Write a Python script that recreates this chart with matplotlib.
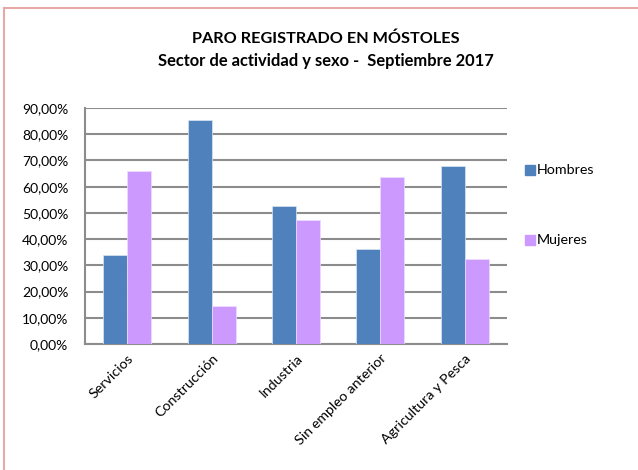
import matplotlib.pyplot as plt
import numpy as np
from matplotlib.lines import Line2D

# --- DATA ---
categorias = ["Servicios", "Construcción", "Industria", "Sin empleo anterior", "Agricultura y Pesca"]
hombres = [34.0, 85.5, 52.8, 36.2, 67.7]
mujeres = [66.0, 14.5, 47.2, 63.8, 32.3]
y_ticks = [0, 10, 20, 30, 40, 50, 60, 70, 80, 90]
y_labels = ["%d,00%%" % v for v in y_ticks]

plt.rcParams['font.family'] = ['Lato', 'DejaVu Sans']

fig = plt.figure(figsize=(6.38, 4.70), dpi=100)
ax = fig.add_axes([0.1332, 0.2681, 0.6615, 0.5021])

x = np.arange(len(categorias))
w = 0.285
ax.bar(x - w / 2, hombres, w, color='#4F81BD', edgecolor='#DCE6F2', linewidth=0.5, label='Hombres', zorder=3)
ax.bar(x + w / 2, mujeres, w, color='#CC99FF', edgecolor='#EEDDFF', linewidth=0.5, label='Mujeres', zorder=3)

ax.set_xlim(-0.5, len(categorias) - 0.5)
ax.set_ylim(0, 90)
ax.set_yticks(y_ticks)
ax.set_yticklabels(y_labels, fontsize=10)
ax.set_xticks(x)
ax.set_xticklabels(categorias, rotation=45, ha='right', rotation_mode='anchor', fontsize=10.3)
ax.tick_params(axis='both', length=0, pad=6)
ax.tick_params(axis='y', pad=12)

ax.yaxis.grid(True, color='#8C8C8C', linewidth=1.5, zorder=0)
for s in ['top', 'right']:
    ax.spines[s].set_visible(False)
ax.spines['left'].set_color('#8C8C8C')
ax.spines['bottom'].set_color('#8C8C8C')
ax.spines['left'].set_linewidth(1.5)
ax.spines['bottom'].set_linewidth(1.5)

# Title
fig.text(0.51, 1 - 39 / 470, "PARO REGISTRADO EN MÓSTOLES", ha='center', va='center',
         fontsize=11.7, fontweight='bold')
fig.text(0.51, 1 - 61 / 470, "Sector de actividad y sexo -  Septiembre 2017", ha='center', va='center',
         fontsize=11.9, fontweight='bold')

# Legend (separate entries, Excel style)
for lbl, col, yy in [("Hombres", '#4F81BD', 170), ("Mujeres", '#CC99FF', 240)]:
    fig.patches.append(plt.Rectangle((525 / 638, 1 - (yy + 5) / 470), 10 / 638, 10 / 470,
                                     transform=fig.transFigure, color=col, figure=fig))
    fig.text(537 / 638, 1 - yy / 470, lbl, ha='left', va='center', fontsize=10.3)

# Chart border (top and left)
fig.lines.append(Line2D([4 / 638, 1], [1 - 8 / 470, 1 - 8 / 470], transform=fig.transFigure,
                        color='#E8A8A8', linewidth=1.5))
fig.lines.append(Line2D([4 / 638, 4 / 638], [0, 1 - 8 / 470], transform=fig.transFigure,
                        color='#E8A8A8', linewidth=1.5))

fig.savefig("out.png", dpi=100)
